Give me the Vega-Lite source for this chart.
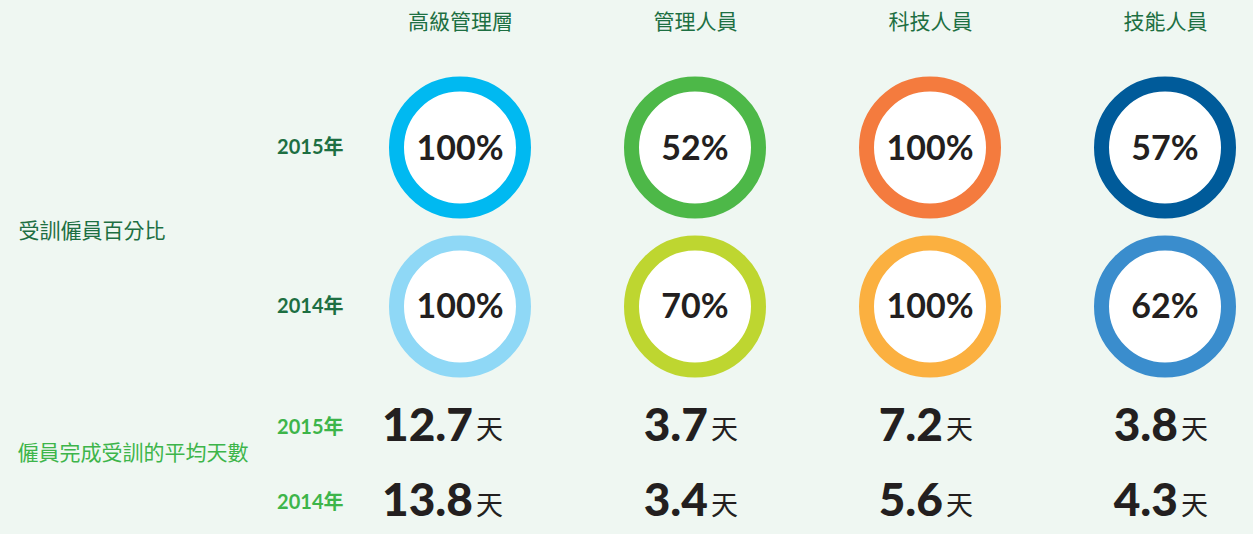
{
  "$schema": "https://vega.github.io/schema/vega-lite/v6.json",
  "background": "#eff7f2",
  "padding": {"left": 17, "top": 11, "right": 0, "bottom": 10},
  "autosize": {"type": "pad"},
  "spacing": 30,
  "bounds": "flush",
  "data": {
    "values": [
      {"category": "高級管理層", "year": "2015", "pct": 1.00, "days": 12.7},
      {"category": "高級管理層", "year": "2014", "pct": 1.00, "days": 13.8},
      {"category": "管理人員", "year": "2015", "pct": 0.52, "days": 3.7},
      {"category": "管理人員", "year": "2014", "pct": 0.70, "days": 3.4},
      {"category": "科技人員", "year": "2015", "pct": 1.00, "days": 7.2},
      {"category": "科技人員", "year": "2014", "pct": 1.00, "days": 5.6},
      {"category": "技能人員", "year": "2015", "pct": 0.57, "days": 3.8},
      {"category": "技能人員", "year": "2014", "pct": 0.62, "days": 4.3}
    ]
  },
  "config": {
    "view": {"stroke": null},
    "axis": {"domain": false, "ticks": false, "grid": false, "tickSize": 0}
  },
  "vconcat": [
    {
      "width": 883,
      "height": 302,
      "encoding": {
        "x": {
          "field": "category", "type": "nominal",
          "sort": ["高級管理層", "管理人員", "科技人員", "技能人員"],
          "scale": {"type": "point", "padding": 0.3787},
          "axis": {
            "orient": "top", "title": null, "labelAngle": 0,
            "labelFont": "Noto Sans CJK TC", "labelFontSize": 21, "labelFontWeight": "normal",
            "labelColor": "#1d6f42", "labelPadding": 44
          }
        },
        "y": {
          "field": "year", "type": "nominal",
          "sort": ["2015", "2014"],
          "scale": {"type": "point", "padding": 0.45},
          "axis": {
            "title": "受訓僱員百分比", "titleAngle": 0, "titleAlign": "left", "titleBaseline": "middle",
            "titleX": -353, "titleY": 155.5,
            "titleFont": "Noto Sans CJK TC", "titleFontSize": 21, "titleFontWeight": "normal", "titleColor": "#1d6f42",
            "labelExpr": "datum.value + '年'",
            "labelFont": "Lato, Noto Sans CJK TC", "labelFontSize": 20, "labelFontWeight": "bold",
            "labelColor": "#1d6f42", "labelPadding": 28, "labelBaseline": "middle"
          }
        }
      },
      "layer": [
        {
          "transform": [{"filter": "datum.year == '2015'"}],
          "mark": {"type": "circle", "fill": "white", "fillOpacity": 1, "opacity": 1, "strokeWidth": 15, "size": 16129},
          "encoding": {
            "stroke": {
              "field": "category", "type": "nominal",
              "scale": {"domain": ["高級管理層", "管理人員", "科技人員", "技能人員"], "range": ["#00b9f1", "#4db848", "#f47b3e", "#005b9a"]},
              "legend": null
            }
          }
        },
        {
          "transform": [{"filter": "datum.year == '2014'"}],
          "mark": {"type": "circle", "fill": "white", "fillOpacity": 1, "opacity": 1, "strokeWidth": 15, "size": 16129},
          "encoding": {
            "stroke": {
              "field": "category", "type": "nominal",
              "scale": {"domain": ["高級管理層", "管理人員", "科技人員", "技能人員"], "range": ["#8fd8f6", "#bed630", "#fbb040", "#3a8dcd"]},
              "legend": null
            }
          }
        },
        {
          "mark": {"type": "text", "font": "Lato", "fontSize": 34, "fontWeight": "bold", "color": "#231f20", "baseline": "alphabetic", "dy": 12},
          "encoding": {"text": {"field": "pct", "type": "quantitative", "format": ".0%"}}
        }
      ],
      "resolve": {"scale": {"stroke": "independent"}}
    },
    {
      "width": 883,
      "height": 106,
      "encoding": {
        "x": {
          "field": "category", "type": "nominal",
          "sort": ["高級管理層", "管理人員", "科技人員", "技能人員"],
          "scale": {"type": "point", "padding": 0.3787},
          "axis": null
        },
        "y": {
          "field": "year", "type": "nominal",
          "sort": ["2015", "2014"],
          "scale": {"type": "point", "padding": 0.2},
          "axis": {
            "title": "僱員完成受訓的平均天數", "titleAngle": 0, "titleAlign": "left", "titleBaseline": "middle",
            "titleX": -354, "titleY": 45,
            "titleFont": "Noto Sans CJK TC", "titleFontSize": 21, "titleFontWeight": "normal", "titleColor": "#3db54a",
            "labelExpr": "datum.value + '年'",
            "labelFont": "Lato, Noto Sans CJK TC", "labelFontSize": 20, "labelFontWeight": "bold",
            "labelColor": "#3db54a", "labelPadding": 28, "labelBaseline": "middle", "labelOffset": 4
          }
        }
      },
      "layer": [
        {
          "mark": {"type": "text", "font": "Lato", "fontSize": 46, "fontWeight": 900, "color": "#231f20", "baseline": "alphabetic", "align": "right", "dx": 13, "dy": 17.5},
          "encoding": {"text": {"field": "days", "type": "quantitative", "format": ".1f"}}
        },
        {
          "mark": {"type": "text", "font": "Noto Sans CJK TC", "fontSize": 27, "fontWeight": "normal", "color": "#231f20", "baseline": "alphabetic", "align": "left", "dx": 16, "dy": 16},
          "encoding": {"text": {"value": "天"}}
        }
      ]
    }
  ]
}
